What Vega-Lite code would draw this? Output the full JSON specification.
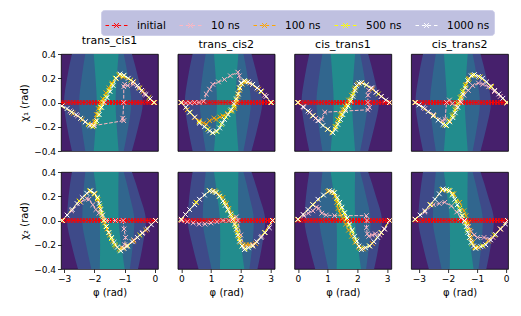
{
"$schema":"https://vega.github.io/schema/vega-lite/v6.json",
"padding":{"left":19,"top":9,"right":5,"bottom":5},
"config":{
 "font":"DejaVu Sans",
 "view":{"stroke":"#000","strokeWidth":0.8},
 "axis":{"domain":false,"grid":false,"tickColor":"#000","tickSize":3.5,"tickWidth":0.8,"labelFontSize":9,"labelColor":"#000","labelPadding":2,"titleFontSize":10,"titleFontWeight":"normal","titleColor":"#000","titlePadding":4},
 "title":{"fontSize":11,"fontWeight":"normal","color":"#000","offset":4},
 "legend":{"orient":"none","legendX":40,"legendY":-44,"direction":"horizontal","fillColor":"#bfc0e0","strokeColor":"#cfd0ea","padding":4,"cornerRadius":3,"symbolType":"M-1,0H-0.68M-0.42,0H-0.1M0.1,0H0.42M0.68,0H1M-0.22,-0.22L0.22,0.22M-0.22,0.22L0.22,-0.22","symbolSize":484,"symbolStrokeWidth":1,"symbolDash":[],"symbolFillColor":"transparent","labelFontSize":10.5,"labelColor":"#000","labelOffset":9,"columnPadding":11}
},
"datasets":{
"bands":[
{"panel":"a1","band":"b","chi":-0.4,"phi":-2.74,"phi2":-0.76},{"panel":"a1","band":"b","chi":-0.2,"phi":-2.9,"phi2":-0.55},{"panel":"a1","band":"b","chi":0,"phi":-3.0,"phi2":-0.4},{"panel":"a1","band":"b","chi":0.2,"phi":-2.9,"phi2":-0.55},{"panel":"a1","band":"b","chi":0.4,"phi":-2.74,"phi2":-0.76},
{"panel":"a1","band":"s","chi":-0.4,"phi":-2.3,"phi2":-1.03},{"panel":"a1","band":"s","chi":-0.2,"phi":-2.42,"phi2":-0.88},{"panel":"a1","band":"s","chi":0,"phi":-2.5,"phi2":-0.78},{"panel":"a1","band":"s","chi":0.2,"phi":-2.42,"phi2":-0.88},{"panel":"a1","band":"s","chi":0.4,"phi":-2.3,"phi2":-1.03},
{"panel":"a1","band":"t","chi":-0.4,"phi":-2.02,"phi2":-1.2},{"panel":"a1","band":"t","chi":-0.2,"phi":-1.96,"phi2":-1.26},{"panel":"a1","band":"t","chi":0,"phi":-1.92,"phi2":-1.3},{"panel":"a1","band":"t","chi":0.2,"phi":-1.96,"phi2":-1.26},{"panel":"a1","band":"t","chi":0.4,"phi":-2.02,"phi2":-1.2},
{"panel":"b1","band":"b","chi":-0.4,"phi":0.38,"phi2":2.36},{"panel":"b1","band":"b","chi":-0.2,"phi":0.22,"phi2":2.57},{"panel":"b1","band":"b","chi":0,"phi":0.12,"phi2":2.72},{"panel":"b1","band":"b","chi":0.2,"phi":0.22,"phi2":2.57},{"panel":"b1","band":"b","chi":0.4,"phi":0.38,"phi2":2.36},
{"panel":"b1","band":"s","chi":-0.4,"phi":0.82,"phi2":2.09},{"panel":"b1","band":"s","chi":-0.2,"phi":0.7,"phi2":2.24},{"panel":"b1","band":"s","chi":0,"phi":0.62,"phi2":2.34},{"panel":"b1","band":"s","chi":0.2,"phi":0.7,"phi2":2.24},{"panel":"b1","band":"s","chi":0.4,"phi":0.82,"phi2":2.09},
{"panel":"b1","band":"t","chi":-0.4,"phi":1.1,"phi2":1.92},{"panel":"b1","band":"t","chi":-0.2,"phi":1.16,"phi2":1.86},{"panel":"b1","band":"t","chi":0,"phi":1.2,"phi2":1.82},{"panel":"b1","band":"t","chi":0.2,"phi":1.16,"phi2":1.86},{"panel":"b1","band":"t","chi":0.4,"phi":1.1,"phi2":1.92},
{"panel":"c1","band":"b","chi":-0.4,"phi":0.38,"phi2":2.36},{"panel":"c1","band":"b","chi":-0.2,"phi":0.22,"phi2":2.57},{"panel":"c1","band":"b","chi":0,"phi":0.12,"phi2":2.72},{"panel":"c1","band":"b","chi":0.2,"phi":0.22,"phi2":2.57},{"panel":"c1","band":"b","chi":0.4,"phi":0.38,"phi2":2.36},
{"panel":"c1","band":"s","chi":-0.4,"phi":0.82,"phi2":2.09},{"panel":"c1","band":"s","chi":-0.2,"phi":0.7,"phi2":2.24},{"panel":"c1","band":"s","chi":0,"phi":0.62,"phi2":2.34},{"panel":"c1","band":"s","chi":0.2,"phi":0.7,"phi2":2.24},{"panel":"c1","band":"s","chi":0.4,"phi":0.82,"phi2":2.09},
{"panel":"c1","band":"t","chi":-0.4,"phi":1.1,"phi2":1.92},{"panel":"c1","band":"t","chi":-0.2,"phi":1.16,"phi2":1.86},{"panel":"c1","band":"t","chi":0,"phi":1.2,"phi2":1.82},{"panel":"c1","band":"t","chi":0.2,"phi":1.16,"phi2":1.86},{"panel":"c1","band":"t","chi":0.4,"phi":1.1,"phi2":1.92},
{"panel":"d1","band":"b","chi":-0.4,"phi":-2.86,"phi2":-0.88},{"panel":"d1","band":"b","chi":-0.2,"phi":-3.02,"phi2":-0.67},{"panel":"d1","band":"b","chi":0,"phi":-3.12,"phi2":-0.52},{"panel":"d1","band":"b","chi":0.2,"phi":-3.02,"phi2":-0.67},{"panel":"d1","band":"b","chi":0.4,"phi":-2.86,"phi2":-0.88},
{"panel":"d1","band":"s","chi":-0.4,"phi":-2.42,"phi2":-1.15},{"panel":"d1","band":"s","chi":-0.2,"phi":-2.54,"phi2":-1.0},{"panel":"d1","band":"s","chi":0,"phi":-2.62,"phi2":-0.9},{"panel":"d1","band":"s","chi":0.2,"phi":-2.54,"phi2":-1.0},{"panel":"d1","band":"s","chi":0.4,"phi":-2.42,"phi2":-1.15},
{"panel":"d1","band":"t","chi":-0.4,"phi":-2.14,"phi2":-1.32},{"panel":"d1","band":"t","chi":-0.2,"phi":-2.08,"phi2":-1.38},{"panel":"d1","band":"t","chi":0,"phi":-2.04,"phi2":-1.42},{"panel":"d1","band":"t","chi":0.2,"phi":-2.08,"phi2":-1.38},{"panel":"d1","band":"t","chi":0.4,"phi":-2.14,"phi2":-1.32},
{"panel":"a2","band":"b","chi":-0.4,"phi":-2.54,"phi2":-0.56},{"panel":"a2","band":"b","chi":-0.2,"phi":-2.75,"phi2":-0.4},{"panel":"a2","band":"b","chi":0,"phi":-2.9,"phi2":-0.3},{"panel":"a2","band":"b","chi":0.2,"phi":-2.85,"phi2":-0.5},{"panel":"a2","band":"b","chi":0.4,"phi":-2.74,"phi2":-0.76},
{"panel":"a2","band":"s","chi":-0.4,"phi":-2.1,"phi2":-0.83},{"panel":"a2","band":"s","chi":-0.2,"phi":-2.27,"phi2":-0.73},{"panel":"a2","band":"s","chi":0,"phi":-2.4,"phi2":-0.68},{"panel":"a2","band":"s","chi":0.2,"phi":-2.37,"phi2":-0.83},{"panel":"a2","band":"s","chi":0.4,"phi":-2.3,"phi2":-1.03},
{"panel":"a2","band":"t","chi":-0.4,"phi":-1.82,"phi2":-1.0},{"panel":"a2","band":"t","chi":-0.2,"phi":-1.81,"phi2":-1.11},{"panel":"a2","band":"t","chi":0,"phi":-1.82,"phi2":-1.2},{"panel":"a2","band":"t","chi":0.2,"phi":-1.91,"phi2":-1.21},{"panel":"a2","band":"t","chi":0.4,"phi":-2.02,"phi2":-1.2},
{"panel":"b2","band":"b","chi":-0.4,"phi":0.58,"phi2":2.56},{"panel":"b2","band":"b","chi":-0.2,"phi":0.37,"phi2":2.72},{"panel":"b2","band":"b","chi":0,"phi":0.22,"phi2":2.82},{"panel":"b2","band":"b","chi":0.2,"phi":0.27,"phi2":2.62},{"panel":"b2","band":"b","chi":0.4,"phi":0.38,"phi2":2.36},
{"panel":"b2","band":"s","chi":-0.4,"phi":1.02,"phi2":2.29},{"panel":"b2","band":"s","chi":-0.2,"phi":0.85,"phi2":2.39},{"panel":"b2","band":"s","chi":0,"phi":0.72,"phi2":2.44},{"panel":"b2","band":"s","chi":0.2,"phi":0.75,"phi2":2.29},{"panel":"b2","band":"s","chi":0.4,"phi":0.82,"phi2":2.09},
{"panel":"b2","band":"t","chi":-0.4,"phi":1.3,"phi2":2.12},{"panel":"b2","band":"t","chi":-0.2,"phi":1.31,"phi2":2.01},{"panel":"b2","band":"t","chi":0,"phi":1.3,"phi2":1.92},{"panel":"b2","band":"t","chi":0.2,"phi":1.21,"phi2":1.91},{"panel":"b2","band":"t","chi":0.4,"phi":1.1,"phi2":1.92},
{"panel":"c2","band":"b","chi":-0.4,"phi":0.58,"phi2":2.56},{"panel":"c2","band":"b","chi":-0.2,"phi":0.37,"phi2":2.72},{"panel":"c2","band":"b","chi":0,"phi":0.22,"phi2":2.82},{"panel":"c2","band":"b","chi":0.2,"phi":0.27,"phi2":2.62},{"panel":"c2","band":"b","chi":0.4,"phi":0.38,"phi2":2.36},
{"panel":"c2","band":"s","chi":-0.4,"phi":1.02,"phi2":2.29},{"panel":"c2","band":"s","chi":-0.2,"phi":0.85,"phi2":2.39},{"panel":"c2","band":"s","chi":0,"phi":0.72,"phi2":2.44},{"panel":"c2","band":"s","chi":0.2,"phi":0.75,"phi2":2.29},{"panel":"c2","band":"s","chi":0.4,"phi":0.82,"phi2":2.09},
{"panel":"c2","band":"t","chi":-0.4,"phi":1.3,"phi2":2.12},{"panel":"c2","band":"t","chi":-0.2,"phi":1.31,"phi2":2.01},{"panel":"c2","band":"t","chi":0,"phi":1.3,"phi2":1.92},{"panel":"c2","band":"t","chi":0.2,"phi":1.21,"phi2":1.91},{"panel":"c2","band":"t","chi":0.4,"phi":1.1,"phi2":1.92},
{"panel":"d2","band":"b","chi":-0.4,"phi":-2.66,"phi2":-0.68},{"panel":"d2","band":"b","chi":-0.2,"phi":-2.87,"phi2":-0.52},{"panel":"d2","band":"b","chi":0,"phi":-3.02,"phi2":-0.42},{"panel":"d2","band":"b","chi":0.2,"phi":-2.97,"phi2":-0.62},{"panel":"d2","band":"b","chi":0.4,"phi":-2.86,"phi2":-0.88},
{"panel":"d2","band":"s","chi":-0.4,"phi":-2.22,"phi2":-0.95},{"panel":"d2","band":"s","chi":-0.2,"phi":-2.39,"phi2":-0.85},{"panel":"d2","band":"s","chi":0,"phi":-2.52,"phi2":-0.8},{"panel":"d2","band":"s","chi":0.2,"phi":-2.49,"phi2":-0.95},{"panel":"d2","band":"s","chi":0.4,"phi":-2.42,"phi2":-1.15},
{"panel":"d2","band":"t","chi":-0.4,"phi":-1.94,"phi2":-1.12},{"panel":"d2","band":"t","chi":-0.2,"phi":-1.93,"phi2":-1.23},{"panel":"d2","band":"t","chi":0,"phi":-1.94,"phi2":-1.32},{"panel":"d2","band":"t","chi":0.2,"phi":-2.03,"phi2":-1.33},{"panel":"d2","band":"t","chi":0.4,"phi":-2.14,"phi2":-1.32}
],
"curves":[
{"panel":"a1","series":"initial","phi":-3.1,"chi":0},{"panel":"a1","series":"initial","phi":-3.0,"chi":0},{"panel":"a1","series":"initial","phi":-2.9,"chi":0},{"panel":"a1","series":"initial","phi":-2.8,"chi":0},{"panel":"a1","series":"initial","phi":-2.7,"chi":0},{"panel":"a1","series":"initial","phi":-2.6,"chi":0},{"panel":"a1","series":"initial","phi":-2.5,"chi":0},{"panel":"a1","series":"initial","phi":-2.4,"chi":0},{"panel":"a1","series":"initial","phi":-2.3,"chi":0},{"panel":"a1","series":"initial","phi":-2.2,"chi":0},{"panel":"a1","series":"initial","phi":-2.1,"chi":0},{"panel":"a1","series":"initial","phi":-2.0,"chi":0},{"panel":"a1","series":"initial","phi":-1.9,"chi":0},{"panel":"a1","series":"initial","phi":-1.8,"chi":0},{"panel":"a1","series":"initial","phi":-1.7,"chi":0},{"panel":"a1","series":"initial","phi":-1.6,"chi":0},{"panel":"a1","series":"initial","phi":-1.5,"chi":0},{"panel":"a1","series":"initial","phi":-1.4,"chi":0},{"panel":"a1","series":"initial","phi":-1.3,"chi":0},{"panel":"a1","series":"initial","phi":-1.2,"chi":0},{"panel":"a1","series":"initial","phi":-1.1,"chi":0},{"panel":"a1","series":"initial","phi":-1.0,"chi":0},{"panel":"a1","series":"initial","phi":-0.9,"chi":0},{"panel":"a1","series":"initial","phi":-0.8,"chi":0},{"panel":"a1","series":"initial","phi":-0.7,"chi":0},{"panel":"a1","series":"initial","phi":-0.6,"chi":0},{"panel":"a1","series":"initial","phi":-0.5,"chi":0},{"panel":"a1","series":"initial","phi":-0.4,"chi":0},{"panel":"a1","series":"initial","phi":-0.3,"chi":0},{"panel":"a1","series":"initial","phi":-0.2,"chi":0},{"panel":"a1","series":"initial","phi":-0.1,"chi":0},{"panel":"a1","series":"initial","phi":0.0,"chi":0},
{"panel":"a1","series":"10 ns","phi":-3.07,"chi":-0.03},{"panel":"a1","series":"10 ns","phi":-2.8,"chi":-0.07},{"panel":"a1","series":"10 ns","phi":-2.55,"chi":-0.11},{"panel":"a1","series":"10 ns","phi":-2.3,"chi":-0.16},{"panel":"a1","series":"10 ns","phi":-2.1,"chi":-0.18},{"panel":"a1","series":"10 ns","phi":-2.0,"chi":-0.19},{"panel":"a1","series":"10 ns","phi":-1.03,"chi":-0.15},{"panel":"a1","series":"10 ns","phi":-1.06,"chi":-0.13},{"panel":"a1","series":"10 ns","phi":-1.03,"chi":0.0},{"panel":"a1","series":"10 ns","phi":-1.03,"chi":0.13},{"panel":"a1","series":"10 ns","phi":-1.0,"chi":0.15},{"panel":"a1","series":"10 ns","phi":-0.9,"chi":0.14},{"panel":"a1","series":"10 ns","phi":-0.72,"chi":0.15},{"panel":"a1","series":"10 ns","phi":-0.55,"chi":0.12},{"panel":"a1","series":"10 ns","phi":-0.35,"chi":0.07},{"panel":"a1","series":"10 ns","phi":-0.03,"chi":0.0},
{"panel":"a1","series":"100 ns","phi":-3.07,"chi":-0.03},{"panel":"a1","series":"100 ns","phi":-2.7,"chi":-0.09},{"panel":"a1","series":"100 ns","phi":-2.4,"chi":-0.14},{"panel":"a1","series":"100 ns","phi":-2.2,"chi":-0.18},{"panel":"a1","series":"100 ns","phi":-2.08,"chi":-0.19},{"panel":"a1","series":"100 ns","phi":-2.0,"chi":-0.16},{"panel":"a1","series":"100 ns","phi":-1.93,"chi":-0.1},{"panel":"a1","series":"100 ns","phi":-1.87,"chi":-0.05},{"panel":"a1","series":"100 ns","phi":-1.8,"chi":0.0},{"panel":"a1","series":"100 ns","phi":-1.72,"chi":0.03},{"panel":"a1","series":"100 ns","phi":-1.62,"chi":0.08},{"panel":"a1","series":"100 ns","phi":-1.52,"chi":0.12},{"panel":"a1","series":"100 ns","phi":-1.42,"chi":0.16},{"panel":"a1","series":"100 ns","phi":-1.3,"chi":0.2},{"panel":"a1","series":"100 ns","phi":-1.18,"chi":0.22},{"panel":"a1","series":"100 ns","phi":-1.05,"chi":0.21},{"panel":"a1","series":"100 ns","phi":-0.7,"chi":0.17},{"panel":"a1","series":"100 ns","phi":-0.4,"chi":0.09},{"panel":"a1","series":"100 ns","phi":-0.03,"chi":0.0},
{"panel":"a1","series":"500 ns","phi":-3.07,"chi":-0.03},{"panel":"a1","series":"500 ns","phi":-2.75,"chi":-0.08},{"panel":"a1","series":"500 ns","phi":-2.45,"chi":-0.13},{"panel":"a1","series":"500 ns","phi":-2.2,"chi":-0.18},{"panel":"a1","series":"500 ns","phi":-2.05,"chi":-0.2},{"panel":"a1","series":"500 ns","phi":-1.95,"chi":-0.16},{"panel":"a1","series":"500 ns","phi":-1.88,"chi":-0.1},{"panel":"a1","series":"500 ns","phi":-1.8,"chi":-0.04},{"panel":"a1","series":"500 ns","phi":-1.72,"chi":0.0},{"panel":"a1","series":"500 ns","phi":-1.62,"chi":0.05},{"panel":"a1","series":"500 ns","phi":-1.52,"chi":0.1},{"panel":"a1","series":"500 ns","phi":-1.42,"chi":0.15},{"panel":"a1","series":"500 ns","phi":-1.3,"chi":0.2},{"panel":"a1","series":"500 ns","phi":-1.18,"chi":0.23},{"panel":"a1","series":"500 ns","phi":-1.04,"chi":0.22},{"panel":"a1","series":"500 ns","phi":-0.8,"chi":0.185},{"panel":"a1","series":"500 ns","phi":-0.5,"chi":0.12},{"panel":"a1","series":"500 ns","phi":-0.2,"chi":0.04},{"panel":"a1","series":"500 ns","phi":-0.03,"chi":0.0},
{"panel":"a1","series":"1000 ns","phi":-3.07,"chi":-0.03},{"panel":"a1","series":"1000 ns","phi":-2.9,"chi":-0.05},{"panel":"a1","series":"1000 ns","phi":-2.75,"chi":-0.08},{"panel":"a1","series":"1000 ns","phi":-2.6,"chi":-0.1},{"panel":"a1","series":"1000 ns","phi":-2.45,"chi":-0.13},{"panel":"a1","series":"1000 ns","phi":-2.3,"chi":-0.16},{"panel":"a1","series":"1000 ns","phi":-2.15,"chi":-0.19},{"panel":"a1","series":"1000 ns","phi":-2.02,"chi":-0.19},{"panel":"a1","series":"1000 ns","phi":-1.92,"chi":-0.15},{"panel":"a1","series":"1000 ns","phi":-1.84,"chi":-0.1},{"panel":"a1","series":"1000 ns","phi":-1.76,"chi":-0.04},{"panel":"a1","series":"1000 ns","phi":-1.68,"chi":0.0},{"panel":"a1","series":"1000 ns","phi":-1.58,"chi":0.04},{"panel":"a1","series":"1000 ns","phi":-1.48,"chi":0.09},{"panel":"a1","series":"1000 ns","phi":-1.38,"chi":0.14},{"panel":"a1","series":"1000 ns","phi":-1.28,"chi":0.2},{"panel":"a1","series":"1000 ns","phi":-1.15,"chi":0.235},{"panel":"a1","series":"1000 ns","phi":-1.02,"chi":0.225},{"panel":"a1","series":"1000 ns","phi":-0.88,"chi":0.2},{"panel":"a1","series":"1000 ns","phi":-0.72,"chi":0.17},{"panel":"a1","series":"1000 ns","phi":-0.58,"chi":0.14},{"panel":"a1","series":"1000 ns","phi":-0.44,"chi":0.1},{"panel":"a1","series":"1000 ns","phi":-0.3,"chi":0.065},{"panel":"a1","series":"1000 ns","phi":-0.16,"chi":0.03},{"panel":"a1","series":"1000 ns","phi":-0.03,"chi":0.0},

{"panel":"b1","series":"initial","phi":0.0,"chi":0},{"panel":"b1","series":"initial","phi":0.1,"chi":0},{"panel":"b1","series":"initial","phi":0.2,"chi":0},{"panel":"b1","series":"initial","phi":0.3,"chi":0},{"panel":"b1","series":"initial","phi":0.4,"chi":0},{"panel":"b1","series":"initial","phi":0.5,"chi":0},{"panel":"b1","series":"initial","phi":0.6,"chi":0},{"panel":"b1","series":"initial","phi":0.7,"chi":0},{"panel":"b1","series":"initial","phi":0.8,"chi":0},{"panel":"b1","series":"initial","phi":0.9,"chi":0},{"panel":"b1","series":"initial","phi":1.0,"chi":0},{"panel":"b1","series":"initial","phi":1.1,"chi":0},{"panel":"b1","series":"initial","phi":1.2,"chi":0},{"panel":"b1","series":"initial","phi":1.3,"chi":0},{"panel":"b1","series":"initial","phi":1.4,"chi":0},{"panel":"b1","series":"initial","phi":1.5,"chi":0},{"panel":"b1","series":"initial","phi":1.6,"chi":0},{"panel":"b1","series":"initial","phi":1.7,"chi":0},{"panel":"b1","series":"initial","phi":1.8,"chi":0},{"panel":"b1","series":"initial","phi":1.9,"chi":0},{"panel":"b1","series":"initial","phi":2.0,"chi":0},{"panel":"b1","series":"initial","phi":2.1,"chi":0},{"panel":"b1","series":"initial","phi":2.2,"chi":0},{"panel":"b1","series":"initial","phi":2.3,"chi":0},{"panel":"b1","series":"initial","phi":2.4,"chi":0},{"panel":"b1","series":"initial","phi":2.5,"chi":0},{"panel":"b1","series":"initial","phi":2.6,"chi":0},{"panel":"b1","series":"initial","phi":2.7,"chi":0},{"panel":"b1","series":"initial","phi":2.8,"chi":0},{"panel":"b1","series":"initial","phi":2.9,"chi":0},{"panel":"b1","series":"initial","phi":3.0,"chi":0},{"panel":"b1","series":"initial","phi":3.1,"chi":0},
{"panel":"b1","series":"10 ns","phi":0.0,"chi":0.0},{"panel":"b1","series":"10 ns","phi":0.15,"chi":-0.005},{"panel":"b1","series":"10 ns","phi":0.3,"chi":-0.005},{"panel":"b1","series":"10 ns","phi":0.45,"chi":0.0},{"panel":"b1","series":"10 ns","phi":0.6,"chi":0.0},{"panel":"b1","series":"10 ns","phi":0.75,"chi":0.01},{"panel":"b1","series":"10 ns","phi":0.84,"chi":0.07},{"panel":"b1","series":"10 ns","phi":0.95,"chi":0.11},{"panel":"b1","series":"10 ns","phi":1.06,"chi":0.15},{"panel":"b1","series":"10 ns","phi":1.25,"chi":0.17},{"panel":"b1","series":"10 ns","phi":1.45,"chi":0.19},{"panel":"b1","series":"10 ns","phi":1.65,"chi":0.22},{"panel":"b1","series":"10 ns","phi":1.9,"chi":0.25},{"panel":"b1","series":"10 ns","phi":1.95,"chi":0.22},{"panel":"b1","series":"10 ns","phi":2.0,"chi":0.16},{"panel":"b1","series":"10 ns","phi":2.1,"chi":0.175},{"panel":"b1","series":"10 ns","phi":2.3,"chi":0.16},{"panel":"b1","series":"10 ns","phi":2.55,"chi":0.12},{"panel":"b1","series":"10 ns","phi":2.8,"chi":0.06},{"panel":"b1","series":"10 ns","phi":3.02,"chi":0.0},
{"panel":"b1","series":"100 ns","phi":0.0,"chi":0.0},{"panel":"b1","series":"100 ns","phi":0.2,"chi":-0.06},{"panel":"b1","series":"100 ns","phi":0.45,"chi":-0.125},{"panel":"b1","series":"100 ns","phi":0.6,"chi":-0.15},{"panel":"b1","series":"100 ns","phi":0.75,"chi":-0.17},{"panel":"b1","series":"100 ns","phi":0.84,"chi":-0.18},{"panel":"b1","series":"100 ns","phi":0.95,"chi":-0.15},{"panel":"b1","series":"100 ns","phi":1.1,"chi":-0.13},{"panel":"b1","series":"100 ns","phi":1.17,"chi":-0.14},{"panel":"b1","series":"100 ns","phi":1.3,"chi":-0.12},{"panel":"b1","series":"100 ns","phi":1.4,"chi":-0.11},{"panel":"b1","series":"100 ns","phi":1.55,"chi":-0.09},{"panel":"b1","series":"100 ns","phi":1.7,"chi":-0.07},{"panel":"b1","series":"100 ns","phi":1.8,"chi":-0.05},{"panel":"b1","series":"100 ns","phi":1.85,"chi":0.0},{"panel":"b1","series":"100 ns","phi":1.9,"chi":0.05},{"panel":"b1","series":"100 ns","phi":1.96,"chi":0.1},{"panel":"b1","series":"100 ns","phi":2.05,"chi":0.15},{"panel":"b1","series":"100 ns","phi":2.2,"chi":0.17},{"panel":"b1","series":"100 ns","phi":2.6,"chi":0.11},{"panel":"b1","series":"100 ns","phi":3.02,"chi":0.0},
{"panel":"b1","series":"500 ns","phi":0.0,"chi":0.0},{"panel":"b1","series":"500 ns","phi":0.3,"chi":-0.08},{"panel":"b1","series":"500 ns","phi":0.6,"chi":-0.16},{"panel":"b1","series":"500 ns","phi":0.9,"chi":-0.22},{"panel":"b1","series":"500 ns","phi":1.05,"chi":-0.25},{"panel":"b1","series":"500 ns","phi":1.2,"chi":-0.24},{"panel":"b1","series":"500 ns","phi":1.35,"chi":-0.18},{"panel":"b1","series":"500 ns","phi":1.5,"chi":-0.12},{"panel":"b1","series":"500 ns","phi":1.65,"chi":-0.07},{"panel":"b1","series":"500 ns","phi":1.78,"chi":-0.03},{"panel":"b1","series":"500 ns","phi":1.85,"chi":0.02},{"panel":"b1","series":"500 ns","phi":1.9,"chi":0.07},{"panel":"b1","series":"500 ns","phi":1.95,"chi":0.12},{"panel":"b1","series":"500 ns","phi":2.02,"chi":0.16},{"panel":"b1","series":"500 ns","phi":2.15,"chi":0.175},{"panel":"b1","series":"500 ns","phi":2.4,"chi":0.15},{"panel":"b1","series":"500 ns","phi":2.7,"chi":0.09},{"panel":"b1","series":"500 ns","phi":3.02,"chi":0.0},
{"panel":"b1","series":"1000 ns","phi":0.0,"chi":0.0},{"panel":"b1","series":"1000 ns","phi":0.15,"chi":-0.04},{"panel":"b1","series":"1000 ns","phi":0.28,"chi":-0.08},{"panel":"b1","series":"1000 ns","phi":0.45,"chi":-0.12},{"panel":"b1","series":"1000 ns","phi":0.61,"chi":-0.17},{"panel":"b1","series":"1000 ns","phi":0.78,"chi":-0.2},{"panel":"b1","series":"1000 ns","phi":0.95,"chi":-0.235},{"panel":"b1","series":"1000 ns","phi":1.06,"chi":-0.25},{"panel":"b1","series":"1000 ns","phi":1.18,"chi":-0.235},{"panel":"b1","series":"1000 ns","phi":1.29,"chi":-0.21},{"panel":"b1","series":"1000 ns","phi":1.38,"chi":-0.17},{"panel":"b1","series":"1000 ns","phi":1.45,"chi":-0.14},{"panel":"b1","series":"1000 ns","phi":1.57,"chi":-0.1},{"panel":"b1","series":"1000 ns","phi":1.68,"chi":-0.06},{"panel":"b1","series":"1000 ns","phi":1.77,"chi":-0.01},{"panel":"b1","series":"1000 ns","phi":1.85,"chi":0.03},{"panel":"b1","series":"1000 ns","phi":1.92,"chi":0.07},{"panel":"b1","series":"1000 ns","phi":1.97,"chi":0.12},{"panel":"b1","series":"1000 ns","phi":2.01,"chi":0.16},{"panel":"b1","series":"1000 ns","phi":2.12,"chi":0.18},{"panel":"b1","series":"1000 ns","phi":2.25,"chi":0.17},{"panel":"b1","series":"1000 ns","phi":2.4,"chi":0.15},{"panel":"b1","series":"1000 ns","phi":2.55,"chi":0.12},{"panel":"b1","series":"1000 ns","phi":2.68,"chi":0.095},{"panel":"b1","series":"1000 ns","phi":2.85,"chi":0.05},{"panel":"b1","series":"1000 ns","phi":3.02,"chi":0.0},

{"panel":"c1","series":"initial","phi":0.0,"chi":0},{"panel":"c1","series":"initial","phi":0.1,"chi":0},{"panel":"c1","series":"initial","phi":0.2,"chi":0},{"panel":"c1","series":"initial","phi":0.3,"chi":0},{"panel":"c1","series":"initial","phi":0.4,"chi":0},{"panel":"c1","series":"initial","phi":0.5,"chi":0},{"panel":"c1","series":"initial","phi":0.6,"chi":0},{"panel":"c1","series":"initial","phi":0.7,"chi":0},{"panel":"c1","series":"initial","phi":0.8,"chi":0},{"panel":"c1","series":"initial","phi":0.9,"chi":0},{"panel":"c1","series":"initial","phi":1.0,"chi":0},{"panel":"c1","series":"initial","phi":1.1,"chi":0},{"panel":"c1","series":"initial","phi":1.2,"chi":0},{"panel":"c1","series":"initial","phi":1.3,"chi":0},{"panel":"c1","series":"initial","phi":1.4,"chi":0},{"panel":"c1","series":"initial","phi":1.5,"chi":0},{"panel":"c1","series":"initial","phi":1.6,"chi":0},{"panel":"c1","series":"initial","phi":1.7,"chi":0},{"panel":"c1","series":"initial","phi":1.8,"chi":0},{"panel":"c1","series":"initial","phi":1.9,"chi":0},{"panel":"c1","series":"initial","phi":2.0,"chi":0},{"panel":"c1","series":"initial","phi":2.1,"chi":0},{"panel":"c1","series":"initial","phi":2.2,"chi":0},{"panel":"c1","series":"initial","phi":2.3,"chi":0},{"panel":"c1","series":"initial","phi":2.4,"chi":0},{"panel":"c1","series":"initial","phi":2.5,"chi":0},{"panel":"c1","series":"initial","phi":2.6,"chi":0},{"panel":"c1","series":"initial","phi":2.7,"chi":0},{"panel":"c1","series":"initial","phi":2.8,"chi":0},{"panel":"c1","series":"initial","phi":2.9,"chi":0},{"panel":"c1","series":"initial","phi":3.0,"chi":0},{"panel":"c1","series":"initial","phi":3.1,"chi":0},
{"panel":"c1","series":"10 ns","phi":0.0,"chi":0.0},{"panel":"c1","series":"10 ns","phi":0.2,"chi":-0.04},{"panel":"c1","series":"10 ns","phi":0.4,"chi":-0.08},{"panel":"c1","series":"10 ns","phi":0.6,"chi":-0.13},{"panel":"c1","series":"10 ns","phi":0.7,"chi":-0.15},{"panel":"c1","series":"10 ns","phi":0.8,"chi":-0.14},{"panel":"c1","series":"10 ns","phi":0.9,"chi":-0.08},{"panel":"c1","series":"10 ns","phi":2.35,"chi":-0.06},{"panel":"c1","series":"10 ns","phi":2.4,"chi":-0.04},{"panel":"c1","series":"10 ns","phi":2.35,"chi":0.0},{"panel":"c1","series":"10 ns","phi":2.35,"chi":0.06},{"panel":"c1","series":"10 ns","phi":2.38,"chi":0.1},{"panel":"c1","series":"10 ns","phi":2.5,"chi":0.12},{"panel":"c1","series":"10 ns","phi":2.63,"chi":0.085},{"panel":"c1","series":"10 ns","phi":2.8,"chi":0.05},{"panel":"c1","series":"10 ns","phi":3.08,"chi":0.0},
{"panel":"c1","series":"100 ns","phi":0.0,"chi":0.0},{"panel":"c1","series":"100 ns","phi":0.5,"chi":-0.11},{"panel":"c1","series":"100 ns","phi":1.0,"chi":-0.22},{"panel":"c1","series":"100 ns","phi":1.15,"chi":-0.245},{"panel":"c1","series":"100 ns","phi":1.25,"chi":-0.2},{"panel":"c1","series":"100 ns","phi":1.33,"chi":-0.14},{"panel":"c1","series":"100 ns","phi":1.42,"chi":-0.1},{"panel":"c1","series":"100 ns","phi":1.5,"chi":-0.06},{"panel":"c1","series":"100 ns","phi":1.58,"chi":-0.03},{"panel":"c1","series":"100 ns","phi":1.7,"chi":0.02},{"panel":"c1","series":"100 ns","phi":1.8,"chi":0.06},{"panel":"c1","series":"100 ns","phi":1.9,"chi":0.11},{"panel":"c1","series":"100 ns","phi":2.0,"chi":0.15},{"panel":"c1","series":"100 ns","phi":2.15,"chi":0.16},{"panel":"c1","series":"100 ns","phi":2.5,"chi":0.11},{"panel":"c1","series":"100 ns","phi":3.08,"chi":0.0},
{"panel":"c1","series":"500 ns","phi":0.0,"chi":0.0},{"panel":"c1","series":"500 ns","phi":0.5,"chi":-0.11},{"panel":"c1","series":"500 ns","phi":1.0,"chi":-0.22},{"panel":"c1","series":"500 ns","phi":1.15,"chi":-0.245},{"panel":"c1","series":"500 ns","phi":1.28,"chi":-0.2},{"panel":"c1","series":"500 ns","phi":1.38,"chi":-0.15},{"panel":"c1","series":"500 ns","phi":1.47,"chi":-0.1},{"panel":"c1","series":"500 ns","phi":1.57,"chi":-0.06},{"panel":"c1","series":"500 ns","phi":1.67,"chi":-0.02},{"panel":"c1","series":"500 ns","phi":1.77,"chi":0.02},{"panel":"c1","series":"500 ns","phi":1.86,"chi":0.07},{"panel":"c1","series":"500 ns","phi":1.93,"chi":0.12},{"panel":"c1","series":"500 ns","phi":2.05,"chi":0.16},{"panel":"c1","series":"500 ns","phi":2.3,"chi":0.145},{"panel":"c1","series":"500 ns","phi":2.7,"chi":0.07},{"panel":"c1","series":"500 ns","phi":3.08,"chi":0.0},
{"panel":"c1","series":"1000 ns","phi":0.0,"chi":0.0},{"panel":"c1","series":"1000 ns","phi":0.17,"chi":-0.035},{"panel":"c1","series":"1000 ns","phi":0.34,"chi":-0.07},{"panel":"c1","series":"1000 ns","phi":0.5,"chi":-0.11},{"panel":"c1","series":"1000 ns","phi":0.67,"chi":-0.15},{"panel":"c1","series":"1000 ns","phi":0.84,"chi":-0.19},{"panel":"c1","series":"1000 ns","phi":1.0,"chi":-0.22},{"panel":"c1","series":"1000 ns","phi":1.17,"chi":-0.25},{"panel":"c1","series":"1000 ns","phi":1.26,"chi":-0.22},{"panel":"c1","series":"1000 ns","phi":1.34,"chi":-0.18},{"panel":"c1","series":"1000 ns","phi":1.43,"chi":-0.14},{"panel":"c1","series":"1000 ns","phi":1.51,"chi":-0.1},{"panel":"c1","series":"1000 ns","phi":1.6,"chi":-0.065},{"panel":"c1","series":"1000 ns","phi":1.68,"chi":-0.03},{"panel":"c1","series":"1000 ns","phi":1.77,"chi":0.01},{"panel":"c1","series":"1000 ns","phi":1.85,"chi":0.05},{"panel":"c1","series":"1000 ns","phi":1.92,"chi":0.1},{"panel":"c1","series":"1000 ns","phi":1.97,"chi":0.14},{"panel":"c1","series":"1000 ns","phi":2.05,"chi":0.16},{"panel":"c1","series":"1000 ns","phi":2.13,"chi":0.165},{"panel":"c1","series":"1000 ns","phi":2.3,"chi":0.145},{"panel":"c1","series":"1000 ns","phi":2.46,"chi":0.12},{"panel":"c1","series":"1000 ns","phi":2.63,"chi":0.085},{"panel":"c1","series":"1000 ns","phi":2.8,"chi":0.05},{"panel":"c1","series":"1000 ns","phi":2.95,"chi":0.02},{"panel":"c1","series":"1000 ns","phi":3.08,"chi":0.0},

{"panel":"d1","series":"initial","phi":-3.1,"chi":0},{"panel":"d1","series":"initial","phi":-3.0,"chi":0},{"panel":"d1","series":"initial","phi":-2.9,"chi":0},{"panel":"d1","series":"initial","phi":-2.8,"chi":0},{"panel":"d1","series":"initial","phi":-2.7,"chi":0},{"panel":"d1","series":"initial","phi":-2.6,"chi":0},{"panel":"d1","series":"initial","phi":-2.5,"chi":0},{"panel":"d1","series":"initial","phi":-2.4,"chi":0},{"panel":"d1","series":"initial","phi":-2.3,"chi":0},{"panel":"d1","series":"initial","phi":-2.2,"chi":0},{"panel":"d1","series":"initial","phi":-2.1,"chi":0},{"panel":"d1","series":"initial","phi":-2.0,"chi":0},{"panel":"d1","series":"initial","phi":-1.9,"chi":0},{"panel":"d1","series":"initial","phi":-1.8,"chi":0},{"panel":"d1","series":"initial","phi":-1.7,"chi":0},{"panel":"d1","series":"initial","phi":-1.6,"chi":0},{"panel":"d1","series":"initial","phi":-1.5,"chi":0},{"panel":"d1","series":"initial","phi":-1.4,"chi":0},{"panel":"d1","series":"initial","phi":-1.3,"chi":0},{"panel":"d1","series":"initial","phi":-1.2,"chi":0},{"panel":"d1","series":"initial","phi":-1.1,"chi":0},{"panel":"d1","series":"initial","phi":-1.0,"chi":0},{"panel":"d1","series":"initial","phi":-0.9,"chi":0},{"panel":"d1","series":"initial","phi":-0.8,"chi":0},{"panel":"d1","series":"initial","phi":-0.7,"chi":0},{"panel":"d1","series":"initial","phi":-0.6,"chi":0},{"panel":"d1","series":"initial","phi":-0.5,"chi":0},{"panel":"d1","series":"initial","phi":-0.4,"chi":0},{"panel":"d1","series":"initial","phi":-0.3,"chi":0},{"panel":"d1","series":"initial","phi":-0.2,"chi":0},{"panel":"d1","series":"initial","phi":-0.1,"chi":0},{"panel":"d1","series":"initial","phi":0.0,"chi":0},
{"panel":"d1","series":"10 ns","phi":-3.13,"chi":0.0},{"panel":"d1","series":"10 ns","phi":-2.8,"chi":-0.05},{"panel":"d1","series":"10 ns","phi":-2.5,"chi":-0.1},{"panel":"d1","series":"10 ns","phi":-2.2,"chi":-0.15},{"panel":"d1","series":"10 ns","phi":-2.1,"chi":-0.14},{"panel":"d1","series":"10 ns","phi":-2.05,"chi":0.0},{"panel":"d1","series":"10 ns","phi":-1.95,"chi":0.02},{"panel":"d1","series":"10 ns","phi":-1.85,"chi":-0.01},{"panel":"d1","series":"10 ns","phi":-1.7,"chi":-0.03},{"panel":"d1","series":"10 ns","phi":-1.55,"chi":0.0},{"panel":"d1","series":"10 ns","phi":-1.45,"chi":0.06},{"panel":"d1","series":"10 ns","phi":-1.3,"chi":0.1},{"panel":"d1","series":"10 ns","phi":-1.15,"chi":0.14},{"panel":"d1","series":"10 ns","phi":-0.95,"chi":0.16},{"panel":"d1","series":"10 ns","phi":-0.8,"chi":0.15},{"panel":"d1","series":"10 ns","phi":-0.6,"chi":0.13},{"panel":"d1","series":"10 ns","phi":-0.4,"chi":0.09},{"panel":"d1","series":"10 ns","phi":-0.2,"chi":0.05},{"panel":"d1","series":"10 ns","phi":0.03,"chi":0.0},
{"panel":"d1","series":"100 ns","phi":-3.13,"chi":0.0},{"panel":"d1","series":"100 ns","phi":-2.5,"chi":-0.11},{"panel":"d1","series":"100 ns","phi":-2.1,"chi":-0.185},{"panel":"d1","series":"100 ns","phi":-1.95,"chi":-0.15},{"panel":"d1","series":"100 ns","phi":-1.82,"chi":-0.1},{"panel":"d1","series":"100 ns","phi":-1.72,"chi":-0.05},{"panel":"d1","series":"100 ns","phi":-1.63,"chi":0.0},{"panel":"d1","series":"100 ns","phi":-1.55,"chi":0.05},{"panel":"d1","series":"100 ns","phi":-1.46,"chi":0.1},{"panel":"d1","series":"100 ns","phi":-1.38,"chi":0.15},{"panel":"d1","series":"100 ns","phi":-1.28,"chi":0.2},{"panel":"d1","series":"100 ns","phi":-1.12,"chi":0.225},{"panel":"d1","series":"100 ns","phi":-0.9,"chi":0.21},{"panel":"d1","series":"100 ns","phi":-0.5,"chi":0.13},{"panel":"d1","series":"100 ns","phi":0.03,"chi":0.0},
{"panel":"d1","series":"500 ns","phi":-3.13,"chi":0.0},{"panel":"d1","series":"500 ns","phi":-2.5,"chi":-0.11},{"panel":"d1","series":"500 ns","phi":-2.1,"chi":-0.185},{"panel":"d1","series":"500 ns","phi":-1.96,"chi":-0.155},{"panel":"d1","series":"500 ns","phi":-1.85,"chi":-0.11},{"panel":"d1","series":"500 ns","phi":-1.76,"chi":-0.06},{"panel":"d1","series":"500 ns","phi":-1.67,"chi":-0.01},{"panel":"d1","series":"500 ns","phi":-1.58,"chi":0.04},{"panel":"d1","series":"500 ns","phi":-1.5,"chi":0.09},{"panel":"d1","series":"500 ns","phi":-1.4,"chi":0.14},{"panel":"d1","series":"500 ns","phi":-1.3,"chi":0.19},{"panel":"d1","series":"500 ns","phi":-1.15,"chi":0.225},{"panel":"d1","series":"500 ns","phi":-0.9,"chi":0.21},{"panel":"d1","series":"500 ns","phi":-0.5,"chi":0.13},{"panel":"d1","series":"500 ns","phi":0.03,"chi":0.0},
{"panel":"d1","series":"1000 ns","phi":-3.13,"chi":0.0},{"panel":"d1","series":"1000 ns","phi":-3.0,"chi":-0.02},{"panel":"d1","series":"1000 ns","phi":-2.85,"chi":-0.04},{"panel":"d1","series":"1000 ns","phi":-2.68,"chi":-0.075},{"panel":"d1","series":"1000 ns","phi":-2.51,"chi":-0.11},{"panel":"d1","series":"1000 ns","phi":-2.34,"chi":-0.145},{"panel":"d1","series":"1000 ns","phi":-2.17,"chi":-0.18},{"panel":"d1","series":"1000 ns","phi":-2.05,"chi":-0.19},{"panel":"d1","series":"1000 ns","phi":-1.94,"chi":-0.16},{"panel":"d1","series":"1000 ns","phi":-1.83,"chi":-0.125},{"panel":"d1","series":"1000 ns","phi":-1.75,"chi":-0.085},{"panel":"d1","series":"1000 ns","phi":-1.66,"chi":-0.04},{"panel":"d1","series":"1000 ns","phi":-1.58,"chi":0.01},{"panel":"d1","series":"1000 ns","phi":-1.49,"chi":0.07},{"panel":"d1","series":"1000 ns","phi":-1.4,"chi":0.12},{"panel":"d1","series":"1000 ns","phi":-1.32,"chi":0.18},{"panel":"d1","series":"1000 ns","phi":-1.2,"chi":0.22},{"panel":"d1","series":"1000 ns","phi":-1.09,"chi":0.23},{"panel":"d1","series":"1000 ns","phi":-0.95,"chi":0.215},{"panel":"d1","series":"1000 ns","phi":-0.81,"chi":0.2},{"panel":"d1","series":"1000 ns","phi":-0.67,"chi":0.17},{"panel":"d1","series":"1000 ns","phi":-0.53,"chi":0.135},{"panel":"d1","series":"1000 ns","phi":-0.39,"chi":0.1},{"panel":"d1","series":"1000 ns","phi":-0.25,"chi":0.07},{"panel":"d1","series":"1000 ns","phi":-0.11,"chi":0.035},{"panel":"d1","series":"1000 ns","phi":0.03,"chi":0.0},

{"panel":"a2","series":"initial","phi":-3.1,"chi":0},{"panel":"a2","series":"initial","phi":-3.0,"chi":0},{"panel":"a2","series":"initial","phi":-2.9,"chi":0},{"panel":"a2","series":"initial","phi":-2.8,"chi":0},{"panel":"a2","series":"initial","phi":-2.7,"chi":0},{"panel":"a2","series":"initial","phi":-2.6,"chi":0},{"panel":"a2","series":"initial","phi":-2.5,"chi":0},{"panel":"a2","series":"initial","phi":-2.4,"chi":0},{"panel":"a2","series":"initial","phi":-2.3,"chi":0},{"panel":"a2","series":"initial","phi":-2.2,"chi":0},{"panel":"a2","series":"initial","phi":-2.1,"chi":0},{"panel":"a2","series":"initial","phi":-2.0,"chi":0},{"panel":"a2","series":"initial","phi":-1.9,"chi":0},{"panel":"a2","series":"initial","phi":-1.8,"chi":0},{"panel":"a2","series":"initial","phi":-1.7,"chi":0},{"panel":"a2","series":"initial","phi":-1.6,"chi":0},{"panel":"a2","series":"initial","phi":-1.5,"chi":0},{"panel":"a2","series":"initial","phi":-1.4,"chi":0},{"panel":"a2","series":"initial","phi":-1.3,"chi":0},{"panel":"a2","series":"initial","phi":-1.2,"chi":0},{"panel":"a2","series":"initial","phi":-1.1,"chi":0},{"panel":"a2","series":"initial","phi":-1.0,"chi":0},{"panel":"a2","series":"initial","phi":-0.9,"chi":0},{"panel":"a2","series":"initial","phi":-0.8,"chi":0},{"panel":"a2","series":"initial","phi":-0.7,"chi":0},{"panel":"a2","series":"initial","phi":-0.6,"chi":0},{"panel":"a2","series":"initial","phi":-0.5,"chi":0},{"panel":"a2","series":"initial","phi":-0.4,"chi":0},{"panel":"a2","series":"initial","phi":-0.3,"chi":0},{"panel":"a2","series":"initial","phi":-0.2,"chi":0},{"panel":"a2","series":"initial","phi":-0.1,"chi":0},{"panel":"a2","series":"initial","phi":0.0,"chi":0},
{"panel":"a2","series":"10 ns","phi":-3.06,"chi":0.0},{"panel":"a2","series":"10 ns","phi":-2.75,"chi":0.08},{"panel":"a2","series":"10 ns","phi":-2.45,"chi":0.15},{"panel":"a2","series":"10 ns","phi":-2.25,"chi":0.18},{"panel":"a2","series":"10 ns","phi":-2.18,"chi":0.175},{"panel":"a2","series":"10 ns","phi":-2.05,"chi":0.13},{"panel":"a2","series":"10 ns","phi":-1.95,"chi":0.09},{"panel":"a2","series":"10 ns","phi":-1.85,"chi":0.06},{"panel":"a2","series":"10 ns","phi":-1.74,"chi":0.04},{"panel":"a2","series":"10 ns","phi":-1.6,"chi":0.0},{"panel":"a2","series":"10 ns","phi":-1.3,"chi":0.0},{"panel":"a2","series":"10 ns","phi":-1.05,"chi":0.0},{"panel":"a2","series":"10 ns","phi":-1.02,"chi":-0.07},{"panel":"a2","series":"10 ns","phi":-0.97,"chi":-0.14},{"panel":"a2","series":"10 ns","phi":-1.0,"chi":-0.2},{"panel":"a2","series":"10 ns","phi":-1.1,"chi":-0.22},{"panel":"a2","series":"10 ns","phi":-0.95,"chi":-0.21},{"panel":"a2","series":"10 ns","phi":-0.7,"chi":-0.16},{"panel":"a2","series":"10 ns","phi":-0.4,"chi":-0.1},{"panel":"a2","series":"10 ns","phi":0.02,"chi":0.0},
{"panel":"a2","series":"100 ns","phi":-3.06,"chi":0.0},{"panel":"a2","series":"100 ns","phi":-2.5,"chi":0.16},{"panel":"a2","series":"100 ns","phi":-2.15,"chi":0.24},{"panel":"a2","series":"100 ns","phi":-1.98,"chi":0.22},{"panel":"a2","series":"100 ns","phi":-1.88,"chi":0.17},{"panel":"a2","series":"100 ns","phi":-1.8,"chi":0.1},{"panel":"a2","series":"100 ns","phi":-1.74,"chi":0.04},{"panel":"a2","series":"100 ns","phi":-1.66,"chi":-0.02},{"panel":"a2","series":"100 ns","phi":-1.58,"chi":-0.07},{"panel":"a2","series":"100 ns","phi":-1.5,"chi":-0.12},{"panel":"a2","series":"100 ns","phi":-1.4,"chi":-0.17},{"panel":"a2","series":"100 ns","phi":-1.3,"chi":-0.21},{"panel":"a2","series":"100 ns","phi":-1.18,"chi":-0.235},{"panel":"a2","series":"100 ns","phi":-1.05,"chi":-0.23},{"panel":"a2","series":"100 ns","phi":-0.7,"chi":-0.17},{"panel":"a2","series":"100 ns","phi":-0.3,"chi":-0.08},{"panel":"a2","series":"100 ns","phi":0.02,"chi":0.0},
{"panel":"a2","series":"500 ns","phi":-3.06,"chi":0.0},{"panel":"a2","series":"500 ns","phi":-2.5,"chi":0.16},{"panel":"a2","series":"500 ns","phi":-2.15,"chi":0.245},{"panel":"a2","series":"500 ns","phi":-2.0,"chi":0.22},{"panel":"a2","series":"500 ns","phi":-1.9,"chi":0.18},{"panel":"a2","series":"500 ns","phi":-1.82,"chi":0.12},{"panel":"a2","series":"500 ns","phi":-1.76,"chi":0.06},{"panel":"a2","series":"500 ns","phi":-1.7,"chi":0.0},{"panel":"a2","series":"500 ns","phi":-1.62,"chi":-0.05},{"panel":"a2","series":"500 ns","phi":-1.53,"chi":-0.1},{"panel":"a2","series":"500 ns","phi":-1.44,"chi":-0.15},{"panel":"a2","series":"500 ns","phi":-1.33,"chi":-0.2},{"panel":"a2","series":"500 ns","phi":-1.15,"chi":-0.245},{"panel":"a2","series":"500 ns","phi":-0.9,"chi":-0.21},{"panel":"a2","series":"500 ns","phi":-0.5,"chi":-0.12},{"panel":"a2","series":"500 ns","phi":0.02,"chi":0.0},
{"panel":"a2","series":"1000 ns","phi":-3.06,"chi":0.0},{"panel":"a2","series":"1000 ns","phi":-2.9,"chi":0.045},{"panel":"a2","series":"1000 ns","phi":-2.73,"chi":0.09},{"panel":"a2","series":"1000 ns","phi":-2.57,"chi":0.14},{"panel":"a2","series":"1000 ns","phi":-2.4,"chi":0.19},{"panel":"a2","series":"1000 ns","phi":-2.25,"chi":0.225},{"panel":"a2","series":"1000 ns","phi":-2.12,"chi":0.245},{"panel":"a2","series":"1000 ns","phi":-2.0,"chi":0.225},{"panel":"a2","series":"1000 ns","phi":-1.9,"chi":0.19},{"panel":"a2","series":"1000 ns","phi":-1.84,"chi":0.14},{"panel":"a2","series":"1000 ns","phi":-1.79,"chi":0.09},{"panel":"a2","series":"1000 ns","phi":-1.73,"chi":0.045},{"panel":"a2","series":"1000 ns","phi":-1.68,"chi":0.0},{"panel":"a2","series":"1000 ns","phi":-1.6,"chi":-0.05},{"panel":"a2","series":"1000 ns","phi":-1.52,"chi":-0.1},{"panel":"a2","series":"1000 ns","phi":-1.43,"chi":-0.14},{"panel":"a2","series":"1000 ns","phi":-1.35,"chi":-0.18},{"panel":"a2","series":"1000 ns","phi":-1.24,"chi":-0.22},{"panel":"a2","series":"1000 ns","phi":-1.13,"chi":-0.25},{"panel":"a2","series":"1000 ns","phi":-1.02,"chi":-0.23},{"panel":"a2","series":"1000 ns","phi":-0.91,"chi":-0.21},{"panel":"a2","series":"1000 ns","phi":-0.75,"chi":-0.175},{"panel":"a2","series":"1000 ns","phi":-0.58,"chi":-0.14},{"panel":"a2","series":"1000 ns","phi":-0.42,"chi":-0.105},{"panel":"a2","series":"1000 ns","phi":-0.25,"chi":-0.07},{"panel":"a2","series":"1000 ns","phi":-0.12,"chi":-0.035},{"panel":"a2","series":"1000 ns","phi":0.02,"chi":0.0},

{"panel":"b2","series":"initial","phi":0.0,"chi":0},{"panel":"b2","series":"initial","phi":0.1,"chi":0},{"panel":"b2","series":"initial","phi":0.2,"chi":0},{"panel":"b2","series":"initial","phi":0.3,"chi":0},{"panel":"b2","series":"initial","phi":0.4,"chi":0},{"panel":"b2","series":"initial","phi":0.5,"chi":0},{"panel":"b2","series":"initial","phi":0.6,"chi":0},{"panel":"b2","series":"initial","phi":0.7,"chi":0},{"panel":"b2","series":"initial","phi":0.8,"chi":0},{"panel":"b2","series":"initial","phi":0.9,"chi":0},{"panel":"b2","series":"initial","phi":1.0,"chi":0},{"panel":"b2","series":"initial","phi":1.1,"chi":0},{"panel":"b2","series":"initial","phi":1.2,"chi":0},{"panel":"b2","series":"initial","phi":1.3,"chi":0},{"panel":"b2","series":"initial","phi":1.4,"chi":0},{"panel":"b2","series":"initial","phi":1.5,"chi":0},{"panel":"b2","series":"initial","phi":1.6,"chi":0},{"panel":"b2","series":"initial","phi":1.7,"chi":0},{"panel":"b2","series":"initial","phi":1.8,"chi":0},{"panel":"b2","series":"initial","phi":1.9,"chi":0},{"panel":"b2","series":"initial","phi":2.0,"chi":0},{"panel":"b2","series":"initial","phi":2.1,"chi":0},{"panel":"b2","series":"initial","phi":2.2,"chi":0},{"panel":"b2","series":"initial","phi":2.3,"chi":0},{"panel":"b2","series":"initial","phi":2.4,"chi":0},{"panel":"b2","series":"initial","phi":2.5,"chi":0},{"panel":"b2","series":"initial","phi":2.6,"chi":0},{"panel":"b2","series":"initial","phi":2.7,"chi":0},{"panel":"b2","series":"initial","phi":2.8,"chi":0},{"panel":"b2","series":"initial","phi":2.9,"chi":0},{"panel":"b2","series":"initial","phi":3.0,"chi":0},{"panel":"b2","series":"initial","phi":3.1,"chi":0},
{"panel":"b2","series":"10 ns","phi":0.0,"chi":0.0},{"panel":"b2","series":"10 ns","phi":0.2,"chi":-0.01},{"panel":"b2","series":"10 ns","phi":0.4,"chi":-0.02},{"panel":"b2","series":"10 ns","phi":0.6,"chi":-0.03},{"panel":"b2","series":"10 ns","phi":0.8,"chi":-0.03},{"panel":"b2","series":"10 ns","phi":1.0,"chi":-0.02},{"panel":"b2","series":"10 ns","phi":1.2,"chi":-0.01},{"panel":"b2","series":"10 ns","phi":1.4,"chi":0.0},{"panel":"b2","series":"10 ns","phi":1.6,"chi":0.0},{"panel":"b2","series":"10 ns","phi":1.75,"chi":0.02},{"panel":"b2","series":"10 ns","phi":1.85,"chi":0.03},{"panel":"b2","series":"10 ns","phi":1.9,"chi":0.0},{"panel":"b2","series":"10 ns","phi":2.0,"chi":-0.12},{"panel":"b2","series":"10 ns","phi":2.12,"chi":-0.22},{"panel":"b2","series":"10 ns","phi":2.4,"chi":-0.2},{"panel":"b2","series":"10 ns","phi":2.7,"chi":-0.13},{"panel":"b2","series":"10 ns","phi":3.07,"chi":0.0},
{"panel":"b2","series":"100 ns","phi":0.0,"chi":0.01},{"panel":"b2","series":"100 ns","phi":0.5,"chi":0.15},{"panel":"b2","series":"100 ns","phi":0.95,"chi":0.245},{"panel":"b2","series":"100 ns","phi":1.12,"chi":0.245},{"panel":"b2","series":"100 ns","phi":1.25,"chi":0.22},{"panel":"b2","series":"100 ns","phi":1.4,"chi":0.19},{"panel":"b2","series":"100 ns","phi":1.52,"chi":0.14},{"panel":"b2","series":"100 ns","phi":1.6,"chi":0.1},{"panel":"b2","series":"100 ns","phi":1.68,"chi":0.06},{"panel":"b2","series":"100 ns","phi":1.75,"chi":0.02},{"panel":"b2","series":"100 ns","phi":1.82,"chi":-0.03},{"panel":"b2","series":"100 ns","phi":1.87,"chi":-0.08},{"panel":"b2","series":"100 ns","phi":1.92,"chi":-0.13},{"panel":"b2","series":"100 ns","phi":1.98,"chi":-0.18},{"panel":"b2","series":"100 ns","phi":2.07,"chi":-0.2},{"panel":"b2","series":"100 ns","phi":2.18,"chi":-0.2},{"panel":"b2","series":"100 ns","phi":2.29,"chi":-0.2},{"panel":"b2","series":"100 ns","phi":2.5,"chi":-0.19},{"panel":"b2","series":"100 ns","phi":2.8,"chi":-0.1},{"panel":"b2","series":"100 ns","phi":3.07,"chi":0.0},
{"panel":"b2","series":"500 ns","phi":0.0,"chi":0.01},{"panel":"b2","series":"500 ns","phi":0.5,"chi":0.15},{"panel":"b2","series":"500 ns","phi":0.95,"chi":0.245},{"panel":"b2","series":"500 ns","phi":1.15,"chi":0.235},{"panel":"b2","series":"500 ns","phi":1.3,"chi":0.2},{"panel":"b2","series":"500 ns","phi":1.45,"chi":0.145},{"panel":"b2","series":"500 ns","phi":1.58,"chi":0.085},{"panel":"b2","series":"500 ns","phi":1.68,"chi":0.04},{"panel":"b2","series":"500 ns","phi":1.76,"chi":0.0},{"panel":"b2","series":"500 ns","phi":1.83,"chi":-0.05},{"panel":"b2","series":"500 ns","phi":1.89,"chi":-0.1},{"panel":"b2","series":"500 ns","phi":1.95,"chi":-0.15},{"panel":"b2","series":"500 ns","phi":2.05,"chi":-0.21},{"panel":"b2","series":"500 ns","phi":2.15,"chi":-0.235},{"panel":"b2","series":"500 ns","phi":2.4,"chi":-0.21},{"panel":"b2","series":"500 ns","phi":2.8,"chi":-0.1},{"panel":"b2","series":"500 ns","phi":3.07,"chi":0.0},
{"panel":"b2","series":"1000 ns","phi":0.0,"chi":0.01},{"panel":"b2","series":"1000 ns","phi":0.14,"chi":0.05},{"panel":"b2","series":"1000 ns","phi":0.28,"chi":0.09},{"panel":"b2","series":"1000 ns","phi":0.45,"chi":0.13},{"panel":"b2","series":"1000 ns","phi":0.61,"chi":0.175},{"panel":"b2","series":"1000 ns","phi":0.78,"chi":0.21},{"panel":"b2","series":"1000 ns","phi":0.95,"chi":0.245},{"panel":"b2","series":"1000 ns","phi":1.06,"chi":0.24},{"panel":"b2","series":"1000 ns","phi":1.17,"chi":0.23},{"panel":"b2","series":"1000 ns","phi":1.28,"chi":0.2},{"panel":"b2","series":"1000 ns","phi":1.4,"chi":0.16},{"panel":"b2","series":"1000 ns","phi":1.48,"chi":0.125},{"panel":"b2","series":"1000 ns","phi":1.56,"chi":0.09},{"panel":"b2","series":"1000 ns","phi":1.65,"chi":0.05},{"panel":"b2","series":"1000 ns","phi":1.73,"chi":0.01},{"panel":"b2","series":"1000 ns","phi":1.79,"chi":-0.03},{"panel":"b2","series":"1000 ns","phi":1.85,"chi":-0.07},{"panel":"b2","series":"1000 ns","phi":1.9,"chi":-0.12},{"panel":"b2","series":"1000 ns","phi":1.96,"chi":-0.17},{"panel":"b2","series":"1000 ns","phi":2.04,"chi":-0.21},{"panel":"b2","series":"1000 ns","phi":2.12,"chi":-0.24},{"panel":"b2","series":"1000 ns","phi":2.26,"chi":-0.225},{"panel":"b2","series":"1000 ns","phi":2.4,"chi":-0.21},{"panel":"b2","series":"1000 ns","phi":2.54,"chi":-0.175},{"panel":"b2","series":"1000 ns","phi":2.68,"chi":-0.14},{"panel":"b2","series":"1000 ns","phi":2.82,"chi":-0.1},{"panel":"b2","series":"1000 ns","phi":2.96,"chi":-0.06},{"panel":"b2","series":"1000 ns","phi":3.07,"chi":0.0},

{"panel":"c2","series":"initial","phi":0.0,"chi":0},{"panel":"c2","series":"initial","phi":0.1,"chi":0},{"panel":"c2","series":"initial","phi":0.2,"chi":0},{"panel":"c2","series":"initial","phi":0.3,"chi":0},{"panel":"c2","series":"initial","phi":0.4,"chi":0},{"panel":"c2","series":"initial","phi":0.5,"chi":0},{"panel":"c2","series":"initial","phi":0.6,"chi":0},{"panel":"c2","series":"initial","phi":0.7,"chi":0},{"panel":"c2","series":"initial","phi":0.8,"chi":0},{"panel":"c2","series":"initial","phi":0.9,"chi":0},{"panel":"c2","series":"initial","phi":1.0,"chi":0},{"panel":"c2","series":"initial","phi":1.1,"chi":0},{"panel":"c2","series":"initial","phi":1.2,"chi":0},{"panel":"c2","series":"initial","phi":1.3,"chi":0},{"panel":"c2","series":"initial","phi":1.4,"chi":0},{"panel":"c2","series":"initial","phi":1.5,"chi":0},{"panel":"c2","series":"initial","phi":1.6,"chi":0},{"panel":"c2","series":"initial","phi":1.7,"chi":0},{"panel":"c2","series":"initial","phi":1.8,"chi":0},{"panel":"c2","series":"initial","phi":1.9,"chi":0},{"panel":"c2","series":"initial","phi":2.0,"chi":0},{"panel":"c2","series":"initial","phi":2.1,"chi":0},{"panel":"c2","series":"initial","phi":2.2,"chi":0},{"panel":"c2","series":"initial","phi":2.3,"chi":0},{"panel":"c2","series":"initial","phi":2.4,"chi":0},{"panel":"c2","series":"initial","phi":2.5,"chi":0},{"panel":"c2","series":"initial","phi":2.6,"chi":0},{"panel":"c2","series":"initial","phi":2.7,"chi":0},{"panel":"c2","series":"initial","phi":2.8,"chi":0},{"panel":"c2","series":"initial","phi":2.9,"chi":0},{"panel":"c2","series":"initial","phi":3.0,"chi":0},{"panel":"c2","series":"initial","phi":3.1,"chi":0},
{"panel":"c2","series":"10 ns","phi":0.0,"chi":0.01},{"panel":"c2","series":"10 ns","phi":0.2,"chi":0.04},{"panel":"c2","series":"10 ns","phi":0.35,"chi":0.06},{"panel":"c2","series":"10 ns","phi":0.5,"chi":0.08},{"panel":"c2","series":"10 ns","phi":0.62,"chi":0.11},{"panel":"c2","series":"10 ns","phi":0.7,"chi":0.1},{"panel":"c2","series":"10 ns","phi":0.8,"chi":0.06},{"panel":"c2","series":"10 ns","phi":0.95,"chi":0.045},{"panel":"c2","series":"10 ns","phi":1.23,"chi":0.04},{"panel":"c2","series":"10 ns","phi":2.3,"chi":0.04},{"panel":"c2","series":"10 ns","phi":2.32,"chi":0.0},{"panel":"c2","series":"10 ns","phi":2.3,"chi":-0.06},{"panel":"c2","series":"10 ns","phi":2.33,"chi":-0.11},{"panel":"c2","series":"10 ns","phi":2.38,"chi":-0.13},{"panel":"c2","series":"10 ns","phi":2.5,"chi":-0.12},{"panel":"c2","series":"10 ns","phi":2.6,"chi":-0.11},{"panel":"c2","series":"10 ns","phi":2.75,"chi":-0.12},{"panel":"c2","series":"10 ns","phi":2.9,"chi":-0.07},{"panel":"c2","series":"10 ns","phi":3.08,"chi":0.0},
{"panel":"c2","series":"100 ns","phi":0.0,"chi":0.01},{"panel":"c2","series":"100 ns","phi":0.5,"chi":0.13},{"panel":"c2","series":"100 ns","phi":1.0,"chi":0.24},{"panel":"c2","series":"100 ns","phi":1.15,"chi":0.235},{"panel":"c2","series":"100 ns","phi":1.25,"chi":0.2},{"panel":"c2","series":"100 ns","phi":1.3,"chi":0.15},{"panel":"c2","series":"100 ns","phi":1.35,"chi":0.1},{"panel":"c2","series":"100 ns","phi":1.42,"chi":0.06},{"panel":"c2","series":"100 ns","phi":1.5,"chi":0.02},{"panel":"c2","series":"100 ns","phi":1.6,"chi":-0.03},{"panel":"c2","series":"100 ns","phi":1.7,"chi":-0.08},{"panel":"c2","series":"100 ns","phi":1.8,"chi":-0.13},{"panel":"c2","series":"100 ns","phi":1.92,"chi":-0.18},{"panel":"c2","series":"100 ns","phi":2.05,"chi":-0.22},{"panel":"c2","series":"100 ns","phi":2.2,"chi":-0.235},{"panel":"c2","series":"100 ns","phi":2.5,"chi":-0.19},{"panel":"c2","series":"100 ns","phi":2.8,"chi":-0.1},{"panel":"c2","series":"100 ns","phi":3.08,"chi":0.0},
{"panel":"c2","series":"500 ns","phi":0.0,"chi":0.01},{"panel":"c2","series":"500 ns","phi":0.5,"chi":0.13},{"panel":"c2","series":"500 ns","phi":1.05,"chi":0.245},{"panel":"c2","series":"500 ns","phi":1.2,"chi":0.23},{"panel":"c2","series":"500 ns","phi":1.3,"chi":0.18},{"panel":"c2","series":"500 ns","phi":1.38,"chi":0.14},{"panel":"c2","series":"500 ns","phi":1.46,"chi":0.1},{"panel":"c2","series":"500 ns","phi":1.55,"chi":0.06},{"panel":"c2","series":"500 ns","phi":1.63,"chi":0.01},{"panel":"c2","series":"500 ns","phi":1.72,"chi":-0.04},{"panel":"c2","series":"500 ns","phi":1.82,"chi":-0.09},{"panel":"c2","series":"500 ns","phi":1.95,"chi":-0.16},{"panel":"c2","series":"500 ns","phi":2.1,"chi":-0.23},{"panel":"c2","series":"500 ns","phi":2.4,"chi":-0.21},{"panel":"c2","series":"500 ns","phi":2.8,"chi":-0.1},{"panel":"c2","series":"500 ns","phi":3.08,"chi":0.0},
{"panel":"c2","series":"1000 ns","phi":0.0,"chi":0.01},{"panel":"c2","series":"1000 ns","phi":0.17,"chi":0.05},{"panel":"c2","series":"1000 ns","phi":0.34,"chi":0.09},{"panel":"c2","series":"1000 ns","phi":0.5,"chi":0.13},{"panel":"c2","series":"1000 ns","phi":0.67,"chi":0.175},{"panel":"c2","series":"1000 ns","phi":0.86,"chi":0.21},{"panel":"c2","series":"1000 ns","phi":1.06,"chi":0.245},{"panel":"c2","series":"1000 ns","phi":1.15,"chi":0.24},{"panel":"c2","series":"1000 ns","phi":1.23,"chi":0.23},{"panel":"c2","series":"1000 ns","phi":1.32,"chi":0.19},{"panel":"c2","series":"1000 ns","phi":1.4,"chi":0.15},{"panel":"c2","series":"1000 ns","phi":1.48,"chi":0.11},{"panel":"c2","series":"1000 ns","phi":1.57,"chi":0.065},{"panel":"c2","series":"1000 ns","phi":1.65,"chi":0.02},{"panel":"c2","series":"1000 ns","phi":1.73,"chi":-0.03},{"panel":"c2","series":"1000 ns","phi":1.82,"chi":-0.08},{"panel":"c2","series":"1000 ns","phi":1.9,"chi":-0.13},{"panel":"c2","series":"1000 ns","phi":1.98,"chi":-0.17},{"panel":"c2","series":"1000 ns","phi":2.05,"chi":-0.21},{"panel":"c2","series":"1000 ns","phi":2.13,"chi":-0.24},{"panel":"c2","series":"1000 ns","phi":2.27,"chi":-0.225},{"panel":"c2","series":"1000 ns","phi":2.41,"chi":-0.21},{"panel":"c2","series":"1000 ns","phi":2.55,"chi":-0.175},{"panel":"c2","series":"1000 ns","phi":2.68,"chi":-0.14},{"panel":"c2","series":"1000 ns","phi":2.8,"chi":-0.1},{"panel":"c2","series":"1000 ns","phi":2.91,"chi":-0.07},{"panel":"c2","series":"1000 ns","phi":3.08,"chi":0.0},

{"panel":"d2","series":"initial","phi":-3.1,"chi":0},{"panel":"d2","series":"initial","phi":-3.0,"chi":0},{"panel":"d2","series":"initial","phi":-2.9,"chi":0},{"panel":"d2","series":"initial","phi":-2.8,"chi":0},{"panel":"d2","series":"initial","phi":-2.7,"chi":0},{"panel":"d2","series":"initial","phi":-2.6,"chi":0},{"panel":"d2","series":"initial","phi":-2.5,"chi":0},{"panel":"d2","series":"initial","phi":-2.4,"chi":0},{"panel":"d2","series":"initial","phi":-2.3,"chi":0},{"panel":"d2","series":"initial","phi":-2.2,"chi":0},{"panel":"d2","series":"initial","phi":-2.1,"chi":0},{"panel":"d2","series":"initial","phi":-2.0,"chi":0},{"panel":"d2","series":"initial","phi":-1.9,"chi":0},{"panel":"d2","series":"initial","phi":-1.8,"chi":0},{"panel":"d2","series":"initial","phi":-1.7,"chi":0},{"panel":"d2","series":"initial","phi":-1.6,"chi":0},{"panel":"d2","series":"initial","phi":-1.5,"chi":0},{"panel":"d2","series":"initial","phi":-1.4,"chi":0},{"panel":"d2","series":"initial","phi":-1.3,"chi":0},{"panel":"d2","series":"initial","phi":-1.2,"chi":0},{"panel":"d2","series":"initial","phi":-1.1,"chi":0},{"panel":"d2","series":"initial","phi":-1.0,"chi":0},{"panel":"d2","series":"initial","phi":-0.9,"chi":0},{"panel":"d2","series":"initial","phi":-0.8,"chi":0},{"panel":"d2","series":"initial","phi":-0.7,"chi":0},{"panel":"d2","series":"initial","phi":-0.6,"chi":0},{"panel":"d2","series":"initial","phi":-0.5,"chi":0},{"panel":"d2","series":"initial","phi":-0.4,"chi":0},{"panel":"d2","series":"initial","phi":-0.3,"chi":0},{"panel":"d2","series":"initial","phi":-0.2,"chi":0},{"panel":"d2","series":"initial","phi":-0.1,"chi":0},{"panel":"d2","series":"initial","phi":0.0,"chi":0},
{"panel":"d2","series":"10 ns","phi":-3.13,"chi":0.01},{"panel":"d2","series":"10 ns","phi":-2.8,"chi":0.07},{"panel":"d2","series":"10 ns","phi":-2.5,"chi":0.13},{"panel":"d2","series":"10 ns","phi":-2.3,"chi":0.14},{"panel":"d2","series":"10 ns","phi":-2.11,"chi":0.15},{"panel":"d2","series":"10 ns","phi":-1.88,"chi":0.12},{"panel":"d2","series":"10 ns","phi":-1.7,"chi":0.07},{"panel":"d2","series":"10 ns","phi":-1.55,"chi":0.02},{"panel":"d2","series":"10 ns","phi":-1.43,"chi":-0.01},{"panel":"d2","series":"10 ns","phi":-1.3,"chi":-0.05},{"panel":"d2","series":"10 ns","phi":-1.21,"chi":-0.09},{"panel":"d2","series":"10 ns","phi":-1.1,"chi":-0.12},{"panel":"d2","series":"10 ns","phi":-0.98,"chi":-0.14},{"panel":"d2","series":"10 ns","phi":-0.76,"chi":-0.14},{"panel":"d2","series":"10 ns","phi":-0.59,"chi":-0.155},{"panel":"d2","series":"10 ns","phi":-0.45,"chi":-0.14},{"panel":"d2","series":"10 ns","phi":-0.2,"chi":-0.07},{"panel":"d2","series":"10 ns","phi":0.05,"chi":0.0},
{"panel":"d2","series":"100 ns","phi":-3.13,"chi":0.01},{"panel":"d2","series":"100 ns","phi":-2.6,"chi":0.13},{"panel":"d2","series":"100 ns","phi":-2.2,"chi":0.25},{"panel":"d2","series":"100 ns","phi":-1.95,"chi":0.245},{"panel":"d2","series":"100 ns","phi":-1.8,"chi":0.22},{"panel":"d2","series":"100 ns","phi":-1.6,"chi":0.15},{"panel":"d2","series":"100 ns","phi":-1.45,"chi":0.08},{"panel":"d2","series":"100 ns","phi":-1.38,"chi":0.04},{"panel":"d2","series":"100 ns","phi":-1.3,"chi":-0.02},{"panel":"d2","series":"100 ns","phi":-1.25,"chi":-0.08},{"panel":"d2","series":"100 ns","phi":-1.2,"chi":-0.14},{"panel":"d2","series":"100 ns","phi":-1.15,"chi":-0.18},{"panel":"d2","series":"100 ns","phi":-1.08,"chi":-0.22},{"panel":"d2","series":"100 ns","phi":-0.95,"chi":-0.225},{"panel":"d2","series":"100 ns","phi":-0.6,"chi":-0.17},{"panel":"d2","series":"100 ns","phi":-0.2,"chi":-0.07},{"panel":"d2","series":"100 ns","phi":0.05,"chi":0.0},
{"panel":"d2","series":"500 ns","phi":-3.13,"chi":0.01},{"panel":"d2","series":"500 ns","phi":-2.6,"chi":0.13},{"panel":"d2","series":"500 ns","phi":-2.2,"chi":0.255},{"panel":"d2","series":"500 ns","phi":-1.98,"chi":0.25},{"panel":"d2","series":"500 ns","phi":-1.85,"chi":0.22},{"panel":"d2","series":"500 ns","phi":-1.72,"chi":0.16},{"panel":"d2","series":"500 ns","phi":-1.6,"chi":0.1},{"panel":"d2","series":"500 ns","phi":-1.5,"chi":0.04},{"panel":"d2","series":"500 ns","phi":-1.4,"chi":-0.02},{"panel":"d2","series":"500 ns","phi":-1.33,"chi":-0.08},{"panel":"d2","series":"500 ns","phi":-1.26,"chi":-0.14},{"panel":"d2","series":"500 ns","phi":-1.18,"chi":-0.19},{"panel":"d2","series":"500 ns","phi":-1.06,"chi":-0.225},{"panel":"d2","series":"500 ns","phi":-0.8,"chi":-0.21},{"panel":"d2","series":"500 ns","phi":-0.4,"chi":-0.12},{"panel":"d2","series":"500 ns","phi":0.05,"chi":0.0},
{"panel":"d2","series":"1000 ns","phi":-3.13,"chi":0.01},{"panel":"d2","series":"1000 ns","phi":-2.96,"chi":0.045},{"panel":"d2","series":"1000 ns","phi":-2.79,"chi":0.08},{"panel":"d2","series":"1000 ns","phi":-2.62,"chi":0.13},{"panel":"d2","series":"1000 ns","phi":-2.45,"chi":0.175},{"panel":"d2","series":"1000 ns","phi":-2.3,"chi":0.22},{"panel":"d2","series":"1000 ns","phi":-2.17,"chi":0.26},{"panel":"d2","series":"1000 ns","phi":-2.05,"chi":0.255},{"panel":"d2","series":"1000 ns","phi":-1.94,"chi":0.245},{"panel":"d2","series":"1000 ns","phi":-1.85,"chi":0.21},{"panel":"d2","series":"1000 ns","phi":-1.77,"chi":0.175},{"panel":"d2","series":"1000 ns","phi":-1.68,"chi":0.13},{"panel":"d2","series":"1000 ns","phi":-1.6,"chi":0.08},{"panel":"d2","series":"1000 ns","phi":-1.52,"chi":0.04},{"panel":"d2","series":"1000 ns","phi":-1.43,"chi":0.0},{"panel":"d2","series":"1000 ns","phi":-1.37,"chi":-0.05},{"panel":"d2","series":"1000 ns","phi":-1.32,"chi":-0.1},{"panel":"d2","series":"1000 ns","phi":-1.26,"chi":-0.14},{"panel":"d2","series":"1000 ns","phi":-1.21,"chi":-0.18},{"panel":"d2","series":"1000 ns","phi":-1.12,"chi":-0.21},{"panel":"d2","series":"1000 ns","phi":-1.04,"chi":-0.23},{"panel":"d2","series":"1000 ns","phi":-0.87,"chi":-0.215},{"panel":"d2","series":"1000 ns","phi":-0.7,"chi":-0.2},{"panel":"d2","series":"1000 ns","phi":-0.53,"chi":-0.16},{"panel":"d2","series":"1000 ns","phi":-0.36,"chi":-0.115},{"panel":"d2","series":"1000 ns","phi":-0.19,"chi":-0.07},{"panel":"d2","series":"1000 ns","phi":-0.02,"chi":-0.03},{"panel":"d2","series":"1000 ns","phi":0.05,"chi":0.0}
]
},
"columns":4,
"bounds":"flush",
"spacing":{"row":21,"column":19.7},
"concat":[
 {"width":97,"height":97,"title":"trans_cis1","view":{"fill":"#46206c"},
  "encoding":{"x":{"field":"phi","type":"quantitative","scale":{"domain":[-3.1,0.1],"nice":false,"zero":false},"axis":null},"y":{"field":"chi","type":"quantitative","scale":{"domain":[-0.4,0.4],"nice":false},"axis":{"values":[-0.4,-0.2,0,0.2,0.4],"format":".1f","title":"χ₁ (rad)"}}},
  "layer":[
   {"data":{"name":"bands"},"transform":[{"filter":"datum.panel=='a1'"}],"mark":{"type":"area","orient":"horizontal","interpolate":"monotone","clip":true},"encoding":{"x":{"field":"phi","type":"quantitative","stack":null},"x2":{"field":"phi2"},"fill":{"field":"band","type":"nominal","scale":{"domain":["b","s","t"],"range":["#3e4a89","#31668e","#228c8d"]},"legend":null}}},
   {"data":{"name":"curves"},"transform":[{"filter":"datum.panel=='a1'"}],"mark":{"type":"line","strokeDash":[3.7,1.6],"strokeWidth":1,"clip":true},"encoding":{"stroke":{"field":"series","type":"nominal","scale":{"domain":["initial","10 ns","100 ns","500 ns","1000 ns"],"range":["#ff0000","#ffb6c1","#ffa500","#ffff00","#ffffff"]},"title":null},"order":{"value":null}}},
   {"data":{"name":"curves"},"transform":[{"filter":"datum.panel=='a1'"}],"mark":{"type":"point","shape":"M-1,-1L1,1M-1,1L1,-1","filled":false,"size":22,"strokeWidth":1,"opacity":1,"clip":true},"encoding":{"stroke":{"field":"series","type":"nominal","title":null}}}
  ]},
 {"width":97,"height":97,"title":"trans_cis2","view":{"fill":"#46206c"},
  "encoding":{"x":{"field":"phi","type":"quantitative","scale":{"domain":[-0.12,3.14],"nice":false,"zero":false},"axis":null},"y":{"field":"chi","type":"quantitative","scale":{"domain":[-0.4,0.4],"nice":false},"axis":null}},
  "layer":[
   {"data":{"name":"bands"},"transform":[{"filter":"datum.panel=='b1'"}],"mark":{"type":"area","orient":"horizontal","interpolate":"monotone","clip":true},"encoding":{"x":{"field":"phi","type":"quantitative","stack":null},"x2":{"field":"phi2"},"fill":{"field":"band","type":"nominal","legend":null}}},
   {"data":{"name":"curves"},"transform":[{"filter":"datum.panel=='b1'"}],"mark":{"type":"line","strokeDash":[3.7,1.6],"strokeWidth":1,"clip":true},"encoding":{"stroke":{"field":"series","type":"nominal","title":null},"order":{"value":null}}},
   {"data":{"name":"curves"},"transform":[{"filter":"datum.panel=='b1'"}],"mark":{"type":"point","shape":"M-1,-1L1,1M-1,1L1,-1","filled":false,"size":22,"strokeWidth":1,"opacity":1,"clip":true},"encoding":{"stroke":{"field":"series","type":"nominal","title":null}}}
  ]},
 {"width":97,"height":97,"title":"cis_trans1","view":{"fill":"#46206c"},
  "encoding":{"x":{"field":"phi","type":"quantitative","scale":{"domain":[-0.12,3.14],"nice":false,"zero":false},"axis":null},"y":{"field":"chi","type":"quantitative","scale":{"domain":[-0.4,0.4],"nice":false},"axis":null}},
  "layer":[
   {"data":{"name":"bands"},"transform":[{"filter":"datum.panel=='c1'"}],"mark":{"type":"area","orient":"horizontal","interpolate":"monotone","clip":true},"encoding":{"x":{"field":"phi","type":"quantitative","stack":null},"x2":{"field":"phi2"},"fill":{"field":"band","type":"nominal","legend":null}}},
   {"data":{"name":"curves"},"transform":[{"filter":"datum.panel=='c1'"}],"mark":{"type":"line","strokeDash":[3.7,1.6],"strokeWidth":1,"clip":true},"encoding":{"stroke":{"field":"series","type":"nominal","title":null},"order":{"value":null}}},
   {"data":{"name":"curves"},"transform":[{"filter":"datum.panel=='c1'"}],"mark":{"type":"point","shape":"M-1,-1L1,1M-1,1L1,-1","filled":false,"size":22,"strokeWidth":1,"opacity":1,"clip":true},"encoding":{"stroke":{"field":"series","type":"nominal","title":null}}}
  ]},
 {"width":97,"height":97,"title":"cis_trans2","view":{"fill":"#46206c"},
  "encoding":{"x":{"field":"phi","type":"quantitative","scale":{"domain":[-3.27,0.07],"nice":false,"zero":false},"axis":null},"y":{"field":"chi","type":"quantitative","scale":{"domain":[-0.4,0.4],"nice":false},"axis":null}},
  "layer":[
   {"data":{"name":"bands"},"transform":[{"filter":"datum.panel=='d1'"}],"mark":{"type":"area","orient":"horizontal","interpolate":"monotone","clip":true},"encoding":{"x":{"field":"phi","type":"quantitative","stack":null},"x2":{"field":"phi2"},"fill":{"field":"band","type":"nominal","legend":null}}},
   {"data":{"name":"curves"},"transform":[{"filter":"datum.panel=='d1'"}],"mark":{"type":"line","strokeDash":[3.7,1.6],"strokeWidth":1,"clip":true},"encoding":{"stroke":{"field":"series","type":"nominal","title":null},"order":{"value":null}}},
   {"data":{"name":"curves"},"transform":[{"filter":"datum.panel=='d1'"}],"mark":{"type":"point","shape":"M-1,-1L1,1M-1,1L1,-1","filled":false,"size":22,"strokeWidth":1,"opacity":1,"clip":true},"encoding":{"stroke":{"field":"series","type":"nominal","title":null}}}
  ]},
 {"width":97,"height":97,"view":{"fill":"#46206c"},
  "encoding":{"x":{"field":"phi","type":"quantitative","scale":{"domain":[-3.1,0.1],"nice":false,"zero":false},"axis":{"values":[-3,-2,-1,0],"format":"d","title":"φ (rad)"}},"y":{"field":"chi","type":"quantitative","scale":{"domain":[-0.4,0.4],"nice":false},"axis":{"values":[-0.4,-0.2,0,0.2,0.4],"format":".1f","title":"χ₂ (rad)"}}},
  "layer":[
   {"data":{"name":"bands"},"transform":[{"filter":"datum.panel=='a2'"}],"mark":{"type":"area","orient":"horizontal","interpolate":"monotone","clip":true},"encoding":{"x":{"field":"phi","type":"quantitative","stack":null},"x2":{"field":"phi2"},"fill":{"field":"band","type":"nominal","legend":null}}},
   {"data":{"name":"curves"},"transform":[{"filter":"datum.panel=='a2'"}],"mark":{"type":"line","strokeDash":[3.7,1.6],"strokeWidth":1,"clip":true},"encoding":{"stroke":{"field":"series","type":"nominal","title":null},"order":{"value":null}}},
   {"data":{"name":"curves"},"transform":[{"filter":"datum.panel=='a2'"}],"mark":{"type":"point","shape":"M-1,-1L1,1M-1,1L1,-1","filled":false,"size":22,"strokeWidth":1,"opacity":1,"clip":true},"encoding":{"stroke":{"field":"series","type":"nominal","title":null}}}
  ]},
 {"width":97,"height":97,"view":{"fill":"#46206c"},
  "encoding":{"x":{"field":"phi","type":"quantitative","scale":{"domain":[-0.12,3.14],"nice":false,"zero":false},"axis":{"values":[0,1,2,3],"format":"d","title":"φ (rad)"}},"y":{"field":"chi","type":"quantitative","scale":{"domain":[-0.4,0.4],"nice":false},"axis":null}},
  "layer":[
   {"data":{"name":"bands"},"transform":[{"filter":"datum.panel=='b2'"}],"mark":{"type":"area","orient":"horizontal","interpolate":"monotone","clip":true},"encoding":{"x":{"field":"phi","type":"quantitative","stack":null},"x2":{"field":"phi2"},"fill":{"field":"band","type":"nominal","legend":null}}},
   {"data":{"name":"curves"},"transform":[{"filter":"datum.panel=='b2'"}],"mark":{"type":"line","strokeDash":[3.7,1.6],"strokeWidth":1,"clip":true},"encoding":{"stroke":{"field":"series","type":"nominal","title":null},"order":{"value":null}}},
   {"data":{"name":"curves"},"transform":[{"filter":"datum.panel=='b2'"}],"mark":{"type":"point","shape":"M-1,-1L1,1M-1,1L1,-1","filled":false,"size":22,"strokeWidth":1,"opacity":1,"clip":true},"encoding":{"stroke":{"field":"series","type":"nominal","title":null}}}
  ]},
 {"width":97,"height":97,"view":{"fill":"#46206c"},
  "encoding":{"x":{"field":"phi","type":"quantitative","scale":{"domain":[-0.12,3.14],"nice":false,"zero":false},"axis":{"values":[0,1,2,3],"format":"d","title":"φ (rad)"}},"y":{"field":"chi","type":"quantitative","scale":{"domain":[-0.4,0.4],"nice":false},"axis":null}},
  "layer":[
   {"data":{"name":"bands"},"transform":[{"filter":"datum.panel=='c2'"}],"mark":{"type":"area","orient":"horizontal","interpolate":"monotone","clip":true},"encoding":{"x":{"field":"phi","type":"quantitative","stack":null},"x2":{"field":"phi2"},"fill":{"field":"band","type":"nominal","legend":null}}},
   {"data":{"name":"curves"},"transform":[{"filter":"datum.panel=='c2'"}],"mark":{"type":"line","strokeDash":[3.7,1.6],"strokeWidth":1,"clip":true},"encoding":{"stroke":{"field":"series","type":"nominal","title":null},"order":{"value":null}}},
   {"data":{"name":"curves"},"transform":[{"filter":"datum.panel=='c2'"}],"mark":{"type":"point","shape":"M-1,-1L1,1M-1,1L1,-1","filled":false,"size":22,"strokeWidth":1,"opacity":1,"clip":true},"encoding":{"stroke":{"field":"series","type":"nominal","title":null}}}
  ]},
 {"width":97,"height":97,"view":{"fill":"#46206c"},
  "encoding":{"x":{"field":"phi","type":"quantitative","scale":{"domain":[-3.27,0.07],"nice":false,"zero":false},"axis":{"values":[-3,-2,-1,0],"format":"d","title":"φ (rad)"}},"y":{"field":"chi","type":"quantitative","scale":{"domain":[-0.4,0.4],"nice":false},"axis":null}},
  "layer":[
   {"data":{"name":"bands"},"transform":[{"filter":"datum.panel=='d2'"}],"mark":{"type":"area","orient":"horizontal","interpolate":"monotone","clip":true},"encoding":{"x":{"field":"phi","type":"quantitative","stack":null},"x2":{"field":"phi2"},"fill":{"field":"band","type":"nominal","legend":null}}},
   {"data":{"name":"curves"},"transform":[{"filter":"datum.panel=='d2'"}],"mark":{"type":"line","strokeDash":[3.7,1.6],"strokeWidth":1,"clip":true},"encoding":{"stroke":{"field":"series","type":"nominal","title":null},"order":{"value":null}}},
   {"data":{"name":"curves"},"transform":[{"filter":"datum.panel=='d2'"}],"mark":{"type":"point","shape":"M-1,-1L1,1M-1,1L1,-1","filled":false,"size":22,"strokeWidth":1,"opacity":1,"clip":true},"encoding":{"stroke":{"field":"series","type":"nominal","title":null}}}
  ]}
]
}
